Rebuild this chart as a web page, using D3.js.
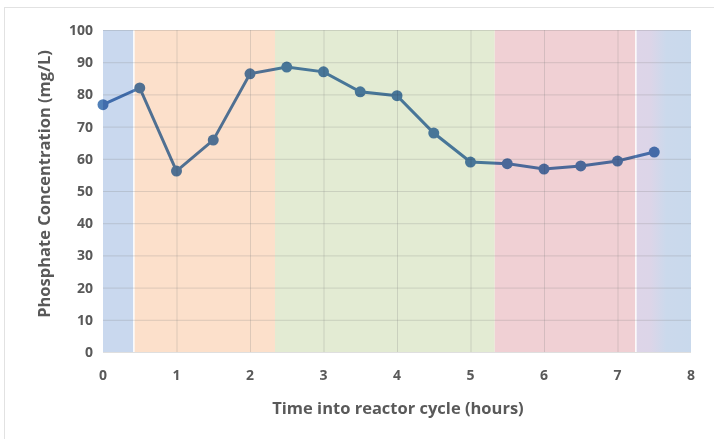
<!DOCTYPE html>
<html>
<head>
<meta charset="utf-8">
<script src="https://cdn.jsdelivr.net/npm/d3@7"></script>
<style>
  body { margin: 0; background: #fff; }
  svg { display: block; font-family: "Open Sans", "Liberation Sans", sans-serif; }
</style>
</head>
<body>
<svg id="chart" width="714" height="439"></svg>
<script>
// data
const hours = [0, 0.5, 1, 1.5, 2, 2.5, 3, 3.5, 4, 4.5, 5, 5.5, 6, 6.5, 7, 7.5];
const phosphate = [76.8, 82, 56.2, 65.8, 86.4, 88.5, 87, 80.8, 79.6, 68, 59, 58.5, 56.8, 57.8, 59.3, 62.1];

// reactor phases (hours)
const phaseStart = [0, 0.43, 2.34, 5.33, 7.26];
const phaseEnd = [0.41, 2.34, 5.33, 7.24, 8];
const phaseColor = ['#c9d8ee', '#fce0cb', '#e3ebd3', '#f0d0d4', 'url(#lastPhase)'];

const xTicks = d3.range(0, 9, 1);
const yTicks = d3.range(0, 101, 10);

const svg = d3.select('#chart');
const margin = {left: 103, top: 30, right: 23, bottom: 87};
const width = 714 - margin.left - margin.right;
const height = 439 - margin.top - margin.bottom;

// outer frame of the chart area
svg.append('rect')
    .attr('x', 4.5).attr('y', 7.5)
    .attr('width', 730).attr('height', 450)
    .attr('fill', 'none')
    .attr('stroke', '#e2e2e2');

const defs = svg.append('defs');
const grad = defs.append('linearGradient').attr('id', 'lastPhase');
grad.append('stop').attr('offset', '0%').attr('stop-color', '#ddd5e8');
grad.append('stop').attr('offset', '25%').attr('stop-color', '#dcd5e8');
grad.append('stop').attr('offset', '55%').attr('stop-color', '#cbd9ec');
grad.append('stop').attr('offset', '100%').attr('stop-color', '#c9d9ec');

const x = d3.scaleLinear().domain([0, 8]).range([0, width]);
const y = d3.scaleLinear().domain([0, 100]).range([height, 0]);

const g = svg.append('g').attr('transform', `translate(${margin.left},${margin.top})`);

// background phases
g.selectAll('rect.phase')
    .data(phaseStart)
    .join('rect')
    .attr('class', 'phase')
    .attr('x', (d, i) => x(d))
    .attr('y', 0)
    .attr('width', (d, i) => x(phaseEnd[i]) - x(d))
    .attr('height', height)
    .attr('fill', (d, i) => phaseColor[i]);

// gridlines
g.append('g')
    .selectAll('line')
    .data(yTicks)
    .join('line')
    .attr('x1', 0).attr('x2', width)
    .attr('y1', d => y(d) + 0.5).attr('y2', d => y(d) + 0.5)
    .attr('stroke', '#808080')
    .attr('stroke-opacity', 0.25);

g.append('g')
    .selectAll('line')
    .data(xTicks.slice(1, -1))
    .join('line')
    .attr('x1', d => x(d) + 0.5).attr('x2', d => x(d) + 0.5)
    .attr('y1', 0).attr('y2', height)
    .attr('stroke', '#808080')
    .attr('stroke-opacity', 0.25);

// tick labels
g.append('g')
    .selectAll('text')
    .data(yTicks)
    .join('text')
    .attr('x', -10)
    .attr('y', d => y(d))
    .attr('dy', '0.35em')
    .attr('text-anchor', 'end')
    .attr('font-size', 14)
    .attr('font-weight', 'bold')
    .attr('fill', '#595959')
    .text(d => d);

g.append('g')
    .selectAll('text')
    .data(xTicks)
    .join('text')
    .attr('x', d => x(d))
    .attr('y', height + 28)
    .attr('text-anchor', 'middle')
    .attr('font-size', 14)
    .attr('font-weight', 'bold')
    .attr('fill', '#595959')
    .text(d => d);

// axis titles
svg.append('text')
    .attr('x', 398)
    .attr('y', 414)
    .attr('text-anchor', 'middle')
    .attr('font-size', 16.5)
    .attr('font-weight', 'bold')
    .attr('fill', '#595959')
    .text('Time into reactor cycle (hours)');

svg.append('text')
    .attr('transform', 'translate(50,184) rotate(-90)')
    .attr('text-anchor', 'middle')
    .attr('font-size', 16.5)
    .attr('font-weight', 'bold')
    .attr('fill', '#595959')
    .text('Phosphate Concentration (mg/L)');

// series
const series = hours.map((h, i) => ({h: h, v: phosphate[i]}));
const line = d3.line().x(d => x(d.h)).y(d => y(d.v));

const seriesG = g.append('g').style('mix-blend-mode', 'multiply');
seriesG.append('path')
    .datum(series)
    .attr('d', line)
    .attr('fill', 'none')
    .attr('stroke', '#5180b8')
    .attr('stroke-width', 3);

seriesG.selectAll('circle')
    .data(series)
    .join('circle')
    .attr('cx', d => x(d.h))
    .attr('cy', d => y(d.v))
    .attr('r', 5.5)
    .attr('fill', '#5180b8');
</script>
</body>
</html>
